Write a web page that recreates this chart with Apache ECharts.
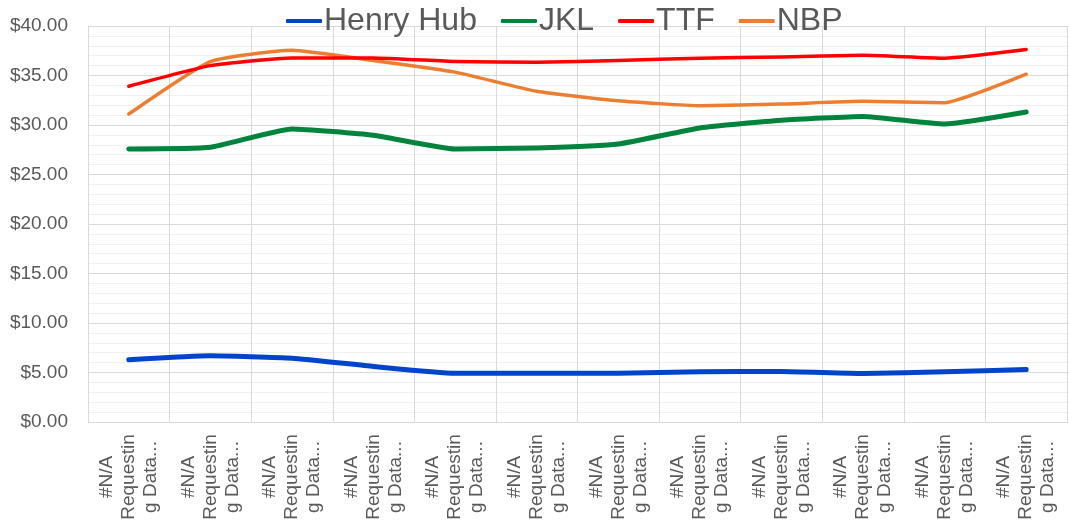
<!DOCTYPE html>
<html>
<head>
<meta charset="utf-8">
<script src="https://cdn.jsdelivr.net/npm/echarts@6/dist/echarts.min.js"></script>
<style>
html,body{margin:0;padding:0;background:#fff;}
#c{width:1069px;height:523px;}
</style>
</head>
<body>
<div id="c"></div>
<script>
var categories = [
  "#N/A Requesting Data...", "#N/A Requesting Data...", "#N/A Requesting Data...",
  "#N/A Requesting Data...", "#N/A Requesting Data...", "#N/A Requesting Data...",
  "#N/A Requesting Data...", "#N/A Requesting Data...", "#N/A Requesting Data...",
  "#N/A Requesting Data...", "#N/A Requesting Data...", "#N/A Requesting Data..."
];
var henryHub = [6.28, 6.69, 6.45, 5.61, 4.93, 4.93, 4.93, 5.07, 5.10, 4.90, 5.07, 5.30];
var jkl      = [27.58, 27.75, 29.60, 28.96, 27.58, 27.68, 28.08, 29.70, 30.47, 30.87, 30.10, 31.31];
var ttf      = [33.92, 36.00, 36.78, 36.78, 36.41, 36.35, 36.51, 36.75, 36.88, 37.05, 36.75, 37.62];
var nbp      = [31.11, 36.41, 37.56, 36.51, 35.34, 33.40, 32.45, 31.95, 32.12, 32.39, 32.25, 35.13];
var seriesNames = ["Henry Hub", "JKL", "TTF", "NBP"];
var yTicks = [0, 5, 10, 15, 20, 25, 30, 35, 40];

function wrapLabel(s, w) {
  var out = [], line = "";
  s.split(" ").forEach(function (word) {
    var cand = line ? line + " " + word : word;
    if (cand.length <= w) { line = cand; return; }
    if (line) { out.push(line); line = ""; }
    while (word.length > w) { out.push(word.slice(0, w)); word = word.slice(w); }
    line = word;
  });
  if (line) out.push(line);
  return out.join("\n");
}

var colors = ["#0044CC", "#00843D", "#FF0000", "#ED7D31"];
var widths = [5, 5, 3.5, 3.5];
var datas = [henryHub, jkl, ttf, nbp];
var FONT = "Liberation Sans, Arial, sans-serif";

var chart = echarts.init(document.getElementById("c"));
chart.setOption({
  animation: false,
  backgroundColor: "#ffffff",
  color: colors,
  legend: {
    data: seriesNames,
    left: 281,
    top: 0,
    icon: "roundRect",
    itemWidth: 36,
    itemHeight: 4,
    itemGap: 24,
    textStyle: { fontSize: 32, color: "#595959", fontFamily: FONT, padding: [0, 0, 0, -3] }
  },
  grid: { left: 88, right: 2, top: 26, bottom: 101 },
  xAxis: {
    type: "category",
    data: categories,
    boundaryGap: true,
    axisLine: { show: true, lineStyle: { color: "#d9d9d9", width: 1 } },
    axisTick: { show: false },
    splitLine: { show: true, lineStyle: { color: "#d9d9d9", width: 1 } },
    axisLabel: {
      interval: 0,
      rotate: 90,
      align: "center",
      verticalAlign: "middle",
      margin: 55,
      fontSize: 19,
      lineHeight: 22,
      color: "#595959",
      fontFamily: FONT,
      formatter: function (v) { return wrapLabel(v, 9); }
    }
  },
  yAxis: {
    type: "value",
    min: yTicks[0],
    max: yTicks[yTicks.length - 1],
    interval: 5,
    axisLine: { show: true, lineStyle: { color: "#d9d9d9" } },
    axisTick: { show: false },
    splitLine: { show: true, lineStyle: { color: "#d9d9d9", width: 1 } },
    minorTick: { show: false, splitNumber: 5 },
    minorSplitLine: { show: true, lineStyle: { color: "#f0f0f0", width: 1 } },
    axisLabel: {
      margin: 20,
      fontSize: 19,
      color: "#595959",
      fontFamily: FONT,
      formatter: function (v) { return "$" + v.toFixed(2); }
    }
  },
  series: seriesNames.map(function (n, i) {
    return {
      name: n,
      type: "line",
      data: datas[i],
      symbol: "none",
      smooth: 0.15,
      lineStyle: { width: widths[i], color: colors[i], cap: "round", join: "round" },
      itemStyle: { color: colors[i] },
      z: 10 - i
    };
  })
});
</script>
</body>
</html>
